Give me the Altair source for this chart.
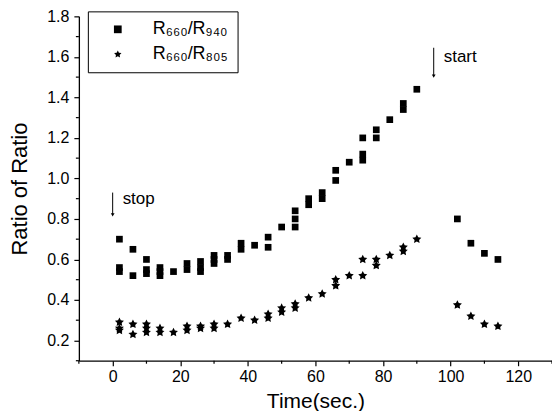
import altair as alt
import pandas as pd

# --- data ---
sq_time = [2, 2, 2, 6, 6, 10, 10, 10, 14, 14, 14, 18, 22, 22, 26, 26, 26,
           30, 30, 30, 34, 34, 38, 38, 42, 46, 46, 50, 54, 54, 54, 58, 58,
           62, 62, 66, 66, 70, 74, 74, 74, 78, 78, 82, 86, 86, 90,
           102, 106, 110, 114]
sq_value = [0.70, 0.56, 0.54, 0.65, 0.52, 0.60, 0.55, 0.53, 0.56, 0.54, 0.52,
            0.54, 0.58, 0.55, 0.59, 0.56, 0.54, 0.62, 0.60, 0.58, 0.62, 0.60,
            0.68, 0.65, 0.67, 0.71, 0.66, 0.76, 0.84, 0.80, 0.76, 0.90, 0.87,
            0.93, 0.90, 1.04, 0.99, 1.08, 1.20, 1.12, 1.09, 1.24, 1.20, 1.29,
            1.37, 1.34, 1.44, 0.80, 0.68, 0.63, 0.60]

st_time = [2, 2, 2, 6, 6, 10, 10, 10, 14, 14, 18, 22, 22, 26, 26, 30, 30,
           34, 38, 42, 46, 46, 50, 50, 54, 54, 58, 62, 66, 66, 70, 74, 74,
           78, 78, 82, 86, 86, 90, 102, 106, 110, 114]
st_value = [0.29, 0.26, 0.25, 0.28, 0.23, 0.28, 0.26, 0.24, 0.26, 0.24, 0.24,
            0.27, 0.25, 0.27, 0.26, 0.28, 0.26, 0.28, 0.31, 0.30, 0.33, 0.31,
            0.36, 0.34, 0.38, 0.36, 0.41, 0.43, 0.50, 0.47, 0.52, 0.60, 0.52,
            0.60, 0.57, 0.62, 0.66, 0.64, 0.70, 0.375, 0.32, 0.28, 0.27]

series_names = ["R\u2086\u2086\u2080/R\u2089\u2084\u2080", "R\u2086\u2086\u2080/R\u2088\u2080\u2085"]

ann_label = ["stop", "start"]
ann_x = [0, 95]
ann_y_top = [0.93, 1.645]
ann_y_tip = [0.82, 1.505]
ann_text_y = [0.90, 1.60]

x_major = [0, 20, 40, 60, 80, 100, 120]
x_minor = [-10, 10, 30, 50, 70, 90, 110, 130]
y_major = [0.2, 0.4, 0.6, 0.8, 1.0, 1.2, 1.4, 1.6, 1.8]
y_minor = [0.1, 0.3, 0.5, 0.7, 0.9, 1.1, 1.3, 1.5, 1.7]

STAR = ("M0,-1L0.294,-0.405L0.951,-0.309L0.476,0.155L0.588,0.809L0,0.5"
        "L-0.588,0.809L-0.476,0.155L-0.951,-0.309L-0.294,-0.405Z")

sq_df = pd.DataFrame({"time": sq_time, "value": sq_value,
                      "series": [series_names[0]] * len(sq_time)})
st_df = pd.DataFrame({"time": st_time, "value": st_value,
                      "series": [series_names[1]] * len(st_time)})
ann = pd.DataFrame({"label": ann_label, "x": ann_x, "y1": ann_y_top,
                    "y2": ann_y_tip, "ty": ann_text_y})
xmin_df = pd.DataFrame({"t": x_minor})
ymin_df = pd.DataFrame({"v": y_minor})

FONT = "Liberation Sans"
PLOT_H = 345

xscale = alt.Scale(domain=[-10, 130], nice=False, zero=False)
yscale = alt.Scale(domain=[0.1, 1.8], nice=False, zero=False)

xaxis = alt.Axis(
    values=x_major, title="Time(sec.)", grid=False, tickSize=5,
    labelFontSize=16, titleFontSize=21, titleFontWeight="normal",
    labelPadding=3, titlePadding=6,
)
yaxis = alt.Axis(
    values=y_major, title="Ratio of Ratio", grid=False, format=".1f", tickSize=5,
    labelFontSize=16, titleFontSize=22, titleFontWeight="normal",
    labelPadding=5, titlePadding=15,
)

shape_enc = alt.Shape(
    "series:N",
    scale=alt.Scale(domain=series_names, range=["square", STAR]),
    legend=alt.Legend(
        title=None, orient="none", legendX=9, legendY=-5,
        strokeColor="black", fillColor="white", padding=9,
        labelFontSize=18, labelFont=FONT, labelColor="black",
        symbolSize=60, symbolFillColor="black", symbolStrokeColor="black",
        symbolOffset=12, labelOffset=26, rowPadding=7,
    ),
)

squares = alt.Chart(sq_df).mark_point(filled=True, color="black", opacity=1, size=45).encode(
    x=alt.X("time:Q", scale=xscale, axis=xaxis),
    y=alt.Y("value:Q", scale=yscale, axis=yaxis),
    shape=shape_enc,
)
stars = alt.Chart(st_df).mark_point(filled=True, color="black", opacity=1, size=90).encode(
    x=alt.X("time:Q", scale=xscale),
    y=alt.Y("value:Q", scale=yscale),
    shape=shape_enc,
)

xminor = alt.Chart(xmin_df).mark_rule(color="black", strokeWidth=1.2).encode(
    x=alt.X("t:Q", scale=xscale), y=alt.value(PLOT_H), y2=alt.value(PLOT_H + 3)
)
yminor = alt.Chart(ymin_df).mark_rule(color="black", strokeWidth=1.2).encode(
    y=alt.Y("v:Q", scale=yscale), x=alt.value(-3), x2=alt.value(0)
)

arrows = alt.Chart(ann).mark_rule(color="black", strokeWidth=1).encode(
    x=alt.X("x:Q", scale=xscale), y=alt.Y("y1:Q", scale=yscale), y2="y2:Q"
)
heads = alt.Chart(ann).mark_point(shape="triangle-down", filled=True, color="black",
                                  size=14, opacity=1).encode(
    x=alt.X("x:Q", scale=xscale), y=alt.Y("y2:Q", scale=yscale)
)
texts = alt.Chart(ann).mark_text(align="left", dx=10, fontSize=17, font=FONT,
                                 color="black").encode(
    x=alt.X("x:Q", scale=xscale), y=alt.Y("ty:Q", scale=yscale), text="label:N"
)

chart = alt.layer(squares, stars, xminor, yminor, arrows, heads, texts).properties(
    width=474, height=PLOT_H, autosize="none",
    padding={"left": 71, "top": 8, "right": 0, "bottom": 50},
).configure_view(strokeWidth=0).configure_axis(
    labelFont=FONT, titleFont=FONT, labelColor="black", titleColor="black",
    domainColor="black", tickColor="black", domainWidth=1.3, tickWidth=1.2,
)

chart.save("out.html", embed_options={"renderer": "svg", "actions": False})
